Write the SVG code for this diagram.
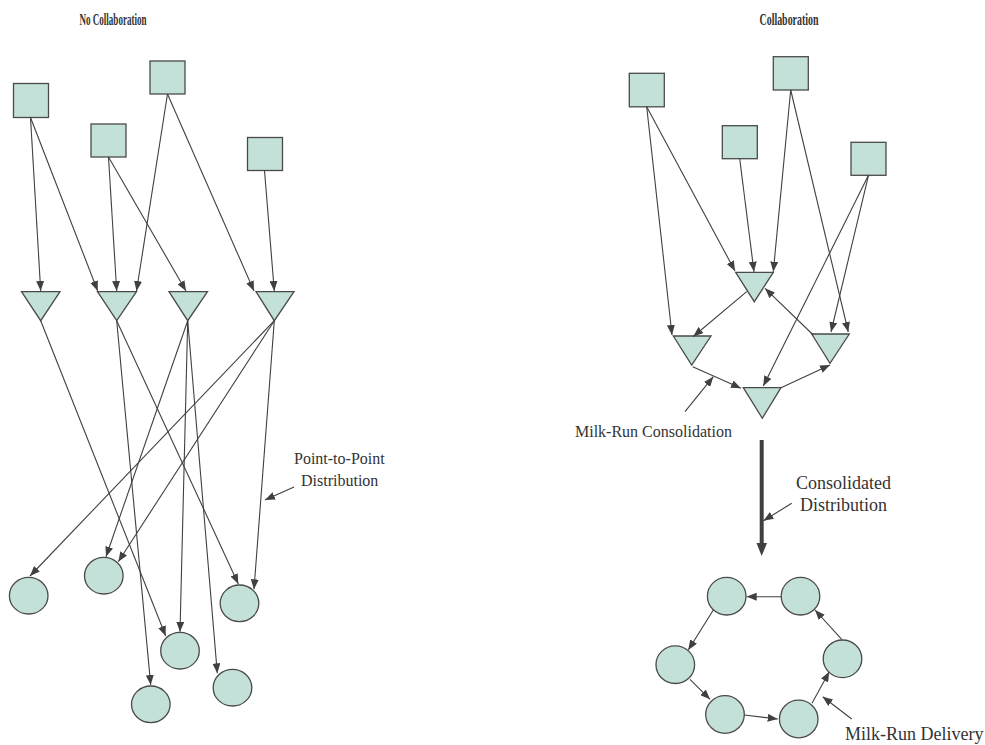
<svg xmlns="http://www.w3.org/2000/svg" width="985" height="745" viewBox="0 0 985 745">
  <defs>
    <marker id="arrow" markerUnits="userSpaceOnUse" markerWidth="10" markerHeight="8" refX="10" refY="4" orient="auto">
      <path d="M0,0 L10,4 L0,8 z" fill="#404040"/>
    </marker>
    <style>
      .node { fill: #c3e0d9; stroke: #4a4a4a; stroke-width: 1.3; }
      .edge { stroke: #404040; stroke-width: 1.1; fill: none; marker-end: url(#arrow); }
      .title { font-family: "Liberation Serif", "Times New Roman", serif; font-weight: bold; font-size: 17px; fill: #333; }
      .label { font-family: "Liberation Serif", "Times New Roman", serif; font-size: 16px; fill: #333; }
      .big { font-size: 18px; }
    </style>
  </defs>
  <rect width="985" height="745" fill="#ffffff"/>

  <!-- Titles -->
  <text class="title" x="113" y="25" text-anchor="middle" textLength="67" lengthAdjust="spacingAndGlyphs">No Collaboration</text>
  <text class="title" x="789" y="25" text-anchor="middle" textLength="59" lengthAdjust="spacingAndGlyphs">Collaboration</text>

  <!-- Left: suppliers -->
  <g id="l-sup-1"><rect class="node" x="13.5" y="83.5" width="35" height="34"/></g>
  <g id="l-sup-2"><rect class="node" x="91" y="124" width="35" height="33"/></g>
  <g id="l-sup-3"><rect class="node" x="150" y="61" width="35" height="33"/></g>
  <g id="l-sup-4"><rect class="node" x="247.5" y="137.5" width="35" height="33"/></g>

  <!-- Left: warehouses -->
  <g id="l-wh-1"><polygon class="node" points="21.5,291.7 60,291.7 40.7,320.7"/></g>
  <g id="l-wh-2"><polygon class="node" points="97.5,291.7 136.5,291.7 116.7,320.7"/></g>
  <g id="l-wh-3"><polygon class="node" points="169,291.7 207.5,291.7 187.7,320.7"/></g>
  <g id="l-wh-4"><polygon class="node" points="256,291.7 294,291.7 274.3,320.7"/></g>

  <!-- Left: customers -->
  <g id="l-cus-1"><ellipse class="node" cx="28.7" cy="595.7" rx="19.3" ry="18.3"/></g>
  <g id="l-cus-2"><ellipse class="node" cx="103.8" cy="575.7" rx="19.3" ry="18.3"/></g>
  <g id="l-cus-3"><ellipse class="node" cx="239.5" cy="603.3" rx="19.3" ry="18.3"/></g>
  <g id="l-cus-4"><ellipse class="node" cx="180" cy="650.7" rx="19.3" ry="18.3"/></g>
  <g id="l-cus-5"><ellipse class="node" cx="150.8" cy="704.3" rx="19.3" ry="18.3"/></g>
  <g id="l-cus-6"><ellipse class="node" cx="232.5" cy="687.7" rx="19.3" ry="18.3"/></g>

  <!-- Right: suppliers -->
  <g id="r-sup-1"><rect class="node" x="629.3" y="73.3" width="35" height="33.5"/></g>
  <g id="r-sup-2"><rect class="node" x="722.3" y="125.7" width="35" height="33"/></g>
  <g id="r-sup-3"><rect class="node" x="773.3" y="56.7" width="35" height="33.3"/></g>
  <g id="r-sup-4"><rect class="node" x="851" y="142.3" width="35" height="33"/></g>

  <!-- Right: consolidation hubs -->
  <g id="r-hub-1"><polygon class="node" points="735.7,272.3 773.3,272.3 754.3,301.7"/></g>
  <g id="r-hub-2"><polygon class="node" points="673.3,336 711,336 691.7,365"/></g>
  <g id="r-hub-3"><polygon class="node" points="811.7,334 849.3,334 830,363.3"/></g>
  <g id="r-hub-4"><polygon class="node" points="743.3,387.7 781,387.7 762.3,418.3"/></g>

  <!-- Right: customers on the delivery loop -->
  <g id="r-cus-1"><ellipse class="node" cx="726.7" cy="596.2" rx="19.3" ry="18.8"/></g>
  <g id="r-cus-2"><ellipse class="node" cx="800.5" cy="596.2" rx="19.3" ry="18.8"/></g>
  <g id="r-cus-3"><ellipse class="node" cx="675.3" cy="664.7" rx="19.3" ry="18.8"/></g>
  <g id="r-cus-4"><ellipse class="node" cx="842.5" cy="658.8" rx="19.3" ry="18.8"/></g>
  <g id="r-cus-5"><ellipse class="node" cx="725" cy="714.5" rx="19.3" ry="18.8"/></g>
  <g id="r-cus-6"><ellipse class="node" cx="798.7" cy="719" rx="19.3" ry="18.8"/></g>

  <!-- Connectors -->
  <g id="connectors">
    <!-- left: suppliers to warehouses -->
    <line class="edge" x1="30.5" y1="117.5" x2="40.7" y2="291"/>
    <line class="edge" x1="30.5" y1="117.5" x2="97.7" y2="291"/>
    <line class="edge" x1="108.5" y1="157" x2="116.7" y2="291"/>
    <line class="edge" x1="108.5" y1="157" x2="186" y2="291"/>
    <line class="edge" x1="167.5" y1="94" x2="136.5" y2="291"/>
    <line class="edge" x1="167.5" y1="94" x2="254" y2="291"/>
    <line class="edge" x1="264.5" y1="170.5" x2="274.3" y2="291"/>
    <!-- left: warehouses to customers -->
    <line class="edge" x1="40.7" y1="320.7" x2="165.7" y2="636"/>
    <line class="edge" x1="116.7" y1="320.7" x2="150.7" y2="685"/>
    <line class="edge" x1="116.7" y1="320.7" x2="238.3" y2="584"/>
    <line class="edge" x1="187.7" y1="320.7" x2="106" y2="556.7"/>
    <line class="edge" x1="187.7" y1="320.7" x2="180" y2="631.7"/>
    <line class="edge" x1="187.7" y1="320.7" x2="217.3" y2="673.3"/>
    <line class="edge" x1="274.3" y1="320.7" x2="30" y2="576"/>
    <line class="edge" x1="274.3" y1="320.7" x2="118.3" y2="561.7"/>
    <line class="edge" x1="274.3" y1="320.7" x2="254" y2="589.3"/>
    <line class="edge" x1="294" y1="487" x2="265" y2="500"/>

    <!-- right: suppliers to hubs -->
    <line class="edge" x1="646.7" y1="106.7" x2="672" y2="335"/>
    <line class="edge" x1="646.7" y1="106.7" x2="735" y2="271"/>
    <line class="edge" x1="739.7" y1="158.7" x2="754" y2="271.7"/>
    <line class="edge" x1="790.7" y1="90" x2="773.3" y2="271.7"/>
    <line class="edge" x1="790.7" y1="90" x2="848.3" y2="332"/>
    <line class="edge" x1="868.5" y1="175.3" x2="831" y2="332"/>
    <line class="edge" x1="868.5" y1="175.3" x2="763.3" y2="386"/>
    <!-- right: milk-run between hubs -->
    <line class="edge" x1="746.7" y1="291.7" x2="693.3" y2="336.5"/>
    <line class="edge" x1="813.3" y1="335" x2="765" y2="288.3"/>
    <line class="edge" x1="692.7" y1="366.7" x2="741" y2="388.3"/>
    <line class="edge" x1="781" y1="387.7" x2="830" y2="365"/>
    <line class="edge" x1="685" y1="411.7" x2="713.3" y2="376.7"/>
    <!-- consolidated distribution -->
    <line x1="761.7" y1="440" x2="761.7" y2="545" stroke="#404040" stroke-width="4"/>
    <polygon points="756.5,543 767,543 761.7,556" fill="#404040"/>
    <line class="edge" x1="791.7" y1="503.3" x2="763.5" y2="520.7"/>
    <!-- right: delivery loop -->
    <line class="edge" x1="781" y1="596.7" x2="746.7" y2="596.7"/>
    <line class="edge" x1="713.3" y1="610" x2="688.3" y2="650"/>
    <line class="edge" x1="690" y1="679.3" x2="710" y2="699.3"/>
    <line class="edge" x1="744.3" y1="715" x2="777.7" y2="719"/>
    <line class="edge" x1="812" y1="703.3" x2="829.3" y2="671.7"/>
    <line class="edge" x1="841.7" y1="639.3" x2="815" y2="610"/>
    <line class="edge" x1="851.7" y1="719" x2="822.7" y2="696.7"/>
  </g>

  <!-- Labels -->
  <text class="label" x="294" y="464">Point-to-Point</text>
  <text class="label" x="301" y="486">Distribution</text>
  <text class="label" x="575" y="437" font-size="15.5">Milk-Run Consolidation</text>
  <text class="label big" x="796" y="489">Consolidated</text>
  <text class="label big" x="800" y="511">Distribution</text>
  <text class="label big" x="845" y="740">Milk-Run Delivery</text>
</svg>
